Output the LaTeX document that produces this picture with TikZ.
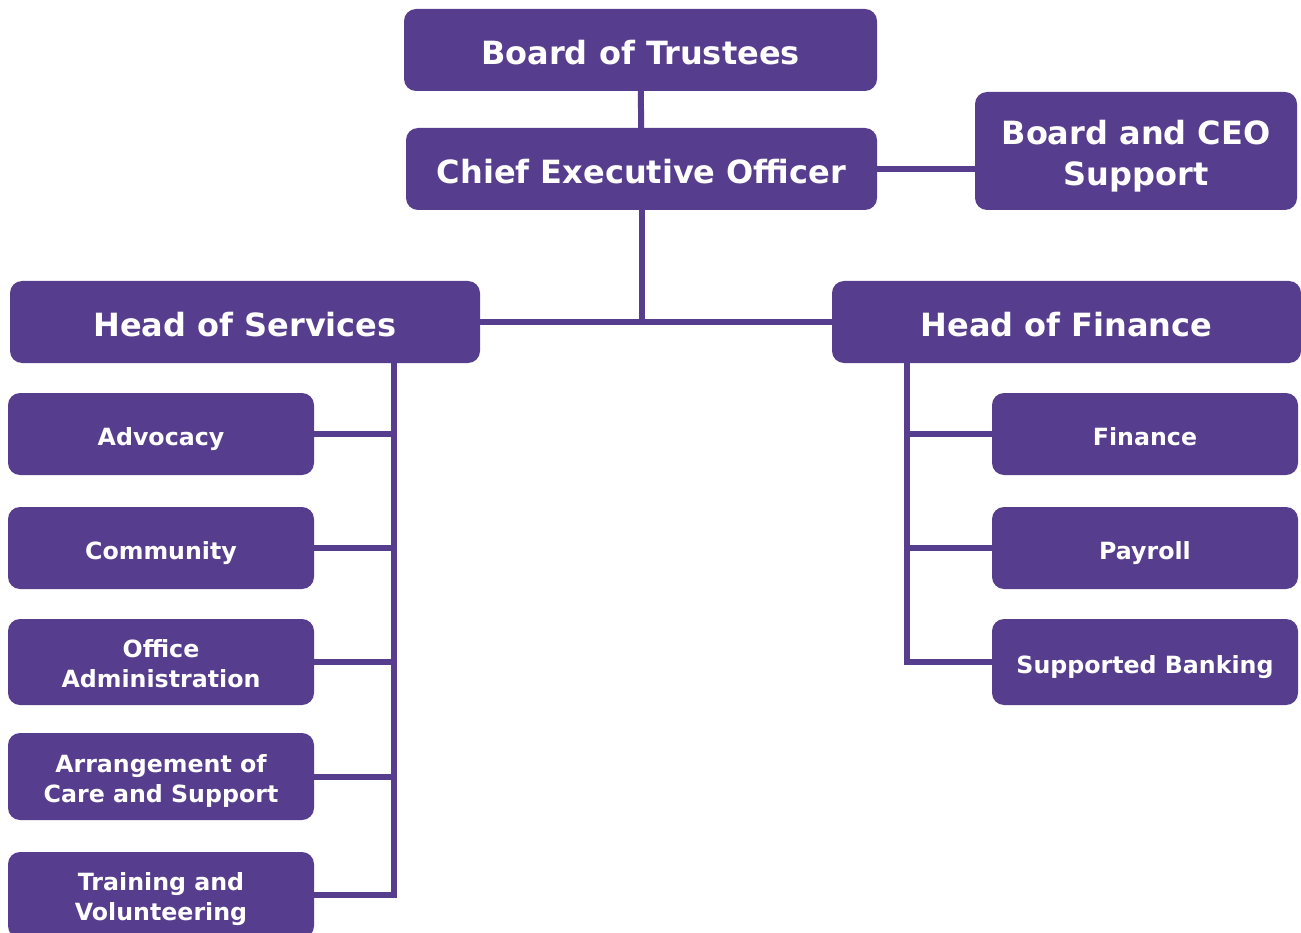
\documentclass[tikz,border=0pt]{standalone}
\usepackage{fontspec}
\setmainfont{DejaVu Sans}
\definecolor{plum}{RGB}{86,61,141}
\tikzset{
  box/.style={fill=plum, text=white, rounded corners=12pt, align=center, inner sep=0pt,
    text height=29pt, text depth=0pt, font=\fontsize{32}{41}\selectfont\bfseries},
  subbox/.style={box, minimum width=306pt, text height=23pt,
    font=\fontsize{23.7}{30}\selectfont\bfseries},
  twoline/.style={text height=51pt},
  link/.style={draw=plum, line width=6pt}
}
\begin{document}
\begin{tikzpicture}[x=1pt, y=-1pt, line join=miter, line cap=rect]
  \useasboundingbox (0,0) rectangle (1301,933);
  % top of the chart
  \node[box, minimum width=473pt, minimum height=82pt] (trustees) at (640.5,50) {Board of Trustees};
  \node[box, minimum width=471pt, minimum height=82pt] (ceo) at (641.5,169) {Chief Executive Officer};
  \node[box, minimum width=322pt, minimum height=118pt, text height=70pt] (support) at (1136,151) {Board and CEO\\Support};
  \node[box, minimum width=470pt, minimum height=82pt] (services) at (245,322) {Head of Services};
  \node[box, minimum width=469pt, minimum height=82pt] (finance) at (1066.5,322) {Head of Finance};
  % services teams
  \node[subbox, minimum height=82pt] (advocacy) at (161,434) {Advocacy};
  \node[subbox, minimum height=82pt] (community) at (161,548) {Community};
  \node[subbox, twoline, minimum height=86pt] (office) at (161,662) {Office\\Administration};
  \node[subbox, twoline, minimum height=87pt] (care) at (161,776.5) {Arrangement of\\Care and Support};
  \node[subbox, twoline, minimum height=86pt] (training) at (161,895) {Training and\\Volunteering};
  % finance teams
  \node[subbox, minimum height=82pt] (fin) at (1145,434) {Finance};
  \node[subbox, minimum height=82pt] (payroll) at (1145,548) {Payroll};
  \node[subbox, minimum height=86pt] (banking) at (1145,662) {Supported Banking};
  \coordinate (sbus) at (394,363);
  \coordinate (fbus) at (907,363);
  \draw[link] (trustees) -- (ceo);
  \draw[link] (ceo.east) -- (ceo.east -| support.west);
  \draw[link] (ceo.south) -- (ceo.south |- services.east);
  \draw[link] (services.east) -- (finance.west);
  \draw[link] (sbus) |- (training.east);
  \foreach \n in {advocacy,community,office,care}
    \draw[link] (\n.east) -- (\n.east -| sbus);
  \draw[link] (fbus) |- (banking.west);
  \foreach \n in {fin,payroll}
    \draw[link] (\n.west) -- (\n.west -| fbus);
\end{tikzpicture}
\end{document}
